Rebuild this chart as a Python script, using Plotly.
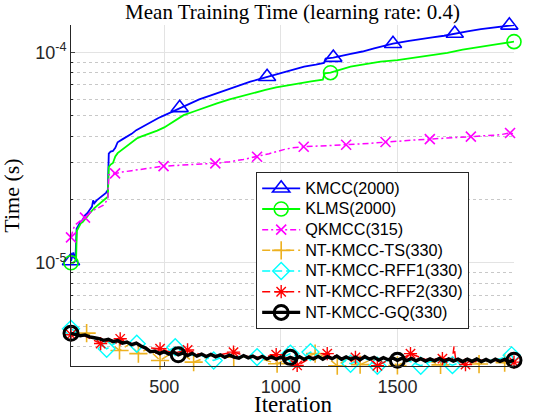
import plotly.graph_objects as go

# ---- data ----
kmcc_x = [100, 105, 110, 115, 120, 124, 130, 140, 150, 160, 170, 180, 190, 195, 200, 210, 220, 230,
          240, 250, 258, 262, 270, 280, 290, 300, 320, 340, 360, 380, 400, 425, 450, 475, 500, 530,
          566, 600, 650, 700, 726, 780, 830, 869, 900, 941, 1000, 1050, 1100, 1150, 1185, 1192, 1225,
          1300, 1350, 1400, 1428, 1481, 1550, 1600, 1650, 1700, 1746, 1800, 1858, 1900, 1950, 1980, 2000]
kmcc_y = [1.02e-5, 1.08e-5, 1.12e-5, 1.05e-5, 1.10e-5, 1.45e-5, 1.50e-5, 1.56e-5, 1.60e-5, 1.68e-5,
          1.72e-5, 1.78e-5, 1.85e-5, 1.98e-5, 1.92e-5, 1.98e-5, 2.02e-5, 2.06e-5, 2.10e-5, 2.15e-5,
          2.22e-5, 3.30e-5, 3.38e-5, 3.40e-5, 3.52e-5, 3.74e-5, 3.86e-5, 3.98e-5, 4.10e-5, 4.27e-5,
          4.40e-5, 4.55e-5, 4.74e-5, 4.88e-5, 5.02e-5, 5.20e-5, 5.45e-5, 5.68e-5, 5.98e-5, 6.25e-5,
          6.40e-5, 6.70e-5, 6.98e-5, 7.26e-5, 7.42e-5, 7.66e-5, 7.98e-5, 8.25e-5, 8.55e-5, 8.75e-5,
          8.92e-5, 9.35e-5, 9.45e-5, 9.85e-5, 1.01e-4, 1.045e-4, 1.066e-4, 1.10e-4, 1.135e-4, 1.16e-4,
          1.18e-4, 1.20e-4, 1.23e-4, 1.26e-4, 1.29e-4, 1.31e-4, 1.33e-4, 1.345e-4, 1.35e-4]
kmcc_mk = [100, 566, 941, 1225, 1481, 1746, 1980]

klms_x = [100, 110, 118, 122, 125, 130, 142, 150, 160, 170, 180, 190, 200, 210, 220, 230, 240, 250,
          258, 262, 270, 280, 290, 300, 320, 340, 360, 382, 400, 440, 470, 500, 540, 583, 630, 680,
          726, 780, 830, 880, 934, 980, 1030, 1084, 1130, 1180, 1188, 1213, 1260, 1299, 1350, 1428,
          1500, 1570, 1640, 1714, 1780, 1858, 1930, 2000]
klms_y = [1.00e-5, 1.00e-5, 1.02e-5, 1.05e-5, 1.42e-5, 1.45e-5, 1.54e-5, 1.56e-5, 1.62e-5, 1.66e-5,
          1.72e-5, 1.78e-5, 1.82e-5, 1.86e-5, 1.90e-5, 1.94e-5, 1.98e-5, 2.02e-5, 2.06e-5, 2.85e-5,
          2.93e-5, 2.98e-5, 3.20e-5, 3.32e-5, 3.45e-5, 3.58e-5, 3.72e-5, 3.90e-5, 3.98e-5, 4.12e-5,
          4.25e-5, 4.40e-5, 4.70e-5, 5.03e-5, 5.25e-5, 5.50e-5, 5.73e-5, 5.98e-5, 6.20e-5, 6.40e-5,
          6.63e-5, 6.82e-5, 6.98e-5, 7.13e-5, 7.28e-5, 7.42e-5, 7.95e-5, 8.01e-5, 8.30e-5, 8.55e-5,
          8.75e-5, 9.04e-5, 9.20e-5, 9.45e-5, 9.72e-5, 9.95e-5, 1.03e-4, 1.066e-4, 1.095e-4, 1.125e-4]
klms_mk = [100, 1213, 2000]

qkmcc_x = [100, 110, 120, 130, 146, 160, 175, 190, 205, 220, 239, 250, 258, 262, 289, 320, 360, 400,
           450, 497, 550, 600, 660, 719, 780, 840, 898, 950, 1012, 1050, 1098, 1150, 1210, 1280, 1340,
           1400, 1449, 1500, 1570, 1639, 1700, 1760, 1815, 1880, 1940, 1983, 2000]
qkmcc_y = [1.32e-5, 1.45e-5, 1.52e-5, 1.55e-5, 1.59e-5, 1.64e-5, 1.70e-5, 1.76e-5, 1.80e-5, 1.84e-5,
           1.88e-5, 1.95e-5, 2.00e-5, 2.62e-5, 2.66e-5, 2.70e-5, 2.74e-5, 2.78e-5, 2.83e-5, 2.88e-5,
           2.90e-5, 2.93e-5, 2.95e-5, 2.97e-5, 3.02e-5, 3.10e-5, 3.19e-5, 3.30e-5, 3.45e-5, 3.52e-5,
           3.56e-5, 3.58e-5, 3.60e-5, 3.64e-5, 3.67e-5, 3.71e-5, 3.75e-5, 3.80e-5, 3.83e-5, 3.87e-5,
           3.90e-5, 3.94e-5, 3.98e-5, 4.02e-5, 4.06e-5, 4.14e-5, 4.10e-5]
qkmcc_mk = [100, 160, 289, 497, 719, 898, 1098, 1280, 1449, 1639, 1815, 1983]

# NT-KMCC variants, values in units of 1e-6 s
ts_x = [100, 130, 167, 200, 250, 308, 350, 389, 430, 482, 530, 580, 626, 700, 750, 798, 850, 900,
        984, 1040, 1100, 1147, 1200, 1242, 1290, 1340, 1400, 1450, 1500, 1560, 1620, 1685, 1740,
        1800, 1850, 1900, 1960, 2000]
ts_y = [4.58, 4.52, 4.63, 4.40, 4.28, 3.83, 4.10, 3.70, 3.90, 3.43, 3.72, 3.68, 3.37, 3.62, 3.60,
        3.56, 3.58, 3.54, 3.31, 3.52, 3.53, 3.70, 3.54, 3.24, 3.52, 3.28, 3.51, 3.49, 3.25, 3.49,
        3.46, 3.27, 3.45, 3.44, 3.30, 3.43, 3.35, 3.44]
ts_mk = [167, 308, 389, 482, 626, 798, 984, 1147, 1242, 1340, 1500, 1685, 1850, 1960]

rff1_x = [100, 150, 200, 253, 300, 340, 382, 440, 500, 547, 600, 660, 712, 760, 820, 898, 950, 1000,
          1041, 1090, 1127, 1180, 1240, 1299, 1360, 1414, 1470, 1530, 1600, 1660, 1736, 1800, 1860,
          1920, 1990, 2000]
rff1_y = [4.85, 4.50, 4.38, 3.90, 4.22, 4.15, 4.12, 3.80, 3.74, 3.97, 3.66, 3.62, 3.43, 3.60, 3.58,
          3.56, 3.54, 3.52, 3.70, 3.52, 3.76, 3.52, 3.53, 3.31, 3.52, 3.24, 3.50, 3.48, 3.24, 3.46,
          3.26, 3.45, 3.43, 3.44, 3.63, 3.44]
rff1_mk = [100, 253, 382, 547, 712, 898, 1041, 1127, 1299, 1414, 1600, 1736, 1990]

rff2_x = [100, 160, 227, 270, 311, 360, 420, 482, 540, 600, 660, 720, 797, 860, 920, 980, 1030, 1070,
          1130, 1199, 1260, 1320, 1380, 1414, 1470, 1520, 1556, 1620, 1693, 1735, 1743, 1750, 1792,
          1850, 1920, 2000]
rff2_y = [4.55, 4.48, 4.13, 4.28, 4.35, 4.12, 3.95, 3.90, 3.72, 3.85, 3.64, 3.62, 3.76, 3.58, 3.55,
          3.66, 3.52, 3.25, 3.53, 3.70, 3.52, 3.55, 3.50, 3.24, 3.49, 3.50, 3.70, 3.47, 3.50, 3.45,
          4.00, 3.45, 3.28, 3.44, 3.43, 3.37]
rff2_mk = [100, 227, 311, 482, 600, 797, 980, 1070, 1199, 1320, 1414, 1556, 1693, 1792, 2000]

gq_x = list(range(100, 2001, 20))
gq_y = [4.62, 4.58, 4.50, 4.54, 4.44, 4.40, 4.36, 4.28, 4.33, 4.22, 4.27, 4.15, 4.20, 4.08, 4.15,
        4.02, 3.93, 3.78, 3.80, 3.70, 3.78, 3.68, 3.76, 3.65, 3.73, 3.62, 3.71, 3.60, 3.68, 3.58,
        3.67, 3.57, 3.65, 3.55, 3.64, 3.56, 3.52, 3.62, 3.53, 3.60, 3.50, 3.59, 3.49, 3.57, 3.48,
        3.56, 3.47, 3.55, 3.48, 3.58, 3.47, 3.57, 3.49, 3.59, 3.48, 3.58, 3.50, 3.60, 3.48, 3.57,
        3.47, 3.56, 3.46, 3.58, 3.48, 3.55, 3.45, 3.54, 3.46, 3.53, 3.44, 3.52, 3.43, 3.51, 3.42,
        3.50, 3.41, 3.49, 3.42, 3.51, 3.40, 3.49, 3.41, 3.48, 3.39, 3.48, 3.40, 3.49, 3.39, 3.47,
        3.38, 3.48, 3.40, 3.47, 3.39, 3.44]
gq_mk = [100, 560, 1040, 1500, 2000]

x_ticks = [500, 1000, 1500, 2000]
y_ticks = [1e-5, 1e-4]
y_ticktext = ["10<sup>-5</sup>", "10<sup>-4</sup>"]
y_minor = [2e-6, 3e-6, 4e-6, 5e-6, 6e-6, 7e-6, 8e-6, 9e-6,
           2e-5, 3e-5, 4e-5, 5e-5, 6e-5, 7e-5, 8e-5, 9e-5]

scale6 = 1e-6
series = [
    # name, x, y, marker-x, color, dash, width, symbol, size, marker line width
    ("KMCC(2000)", kmcc_x, kmcc_y, kmcc_mk, "#0000ff", "solid", 1.8, "triangle-up-open", 15, 1.6),
    ("KLMS(2000)", klms_x, klms_y, klms_mk, "#00ff00", "solid", 1.8, "circle-open", 14, 1.6),
    ("QKMCC(315)", qkmcc_x, qkmcc_y, qkmcc_mk, "#ff00ff", "6px,3px,2px,3px", 1.5, "x-thin-open", 10, 1.6),
    ("NT-KMCC-TS(330)", ts_x, [v * scale6 for v in ts_y], ts_mk, "#edb120", "8px,4px", 1.5,
     "cross-thin-open", 13, 1.6),
    ("NT-KMCC-RFF1(330)", rff1_x, [v * scale6 for v in rff1_y], rff1_mk, "#00ffff", "8px,4px", 1.5,
     "diamond-open", 13, 1.4),
    ("NT-KMCC-RFF2(330)", rff2_x, [v * scale6 for v in rff2_y], rff2_mk, "#ff0000", "8px,4px", 1.5,
     "asterisk-open", 11, 1.4),
    ("NT-KMCC-GQ(330)", gq_x, [v * scale6 for v in gq_y], gq_mk, "#000000", "solid", 3.4,
     "circle-open", 14, 3),
]

fig = go.Figure()
for name, xs, ys, mk, color, dash, lw, sym, msize, mlw in series:
    fig.add_trace(go.Scatter(x=xs, y=ys, mode="lines", showlegend=False,
                             line=dict(color=color, width=lw, dash=dash)))
    my = [ys[xs.index(m)] for m in mk]
    fig.add_trace(go.Scatter(x=mk, y=my, mode="markers", showlegend=False, cliponaxis=False,
                             marker=dict(symbol=sym, size=msize, color=color,
                                         line=dict(color=color, width=mlw))))
# legend entries (bigger text inside smaller row height, like the reference)
for name, xs, ys, mk, color, dash, lw, sym, msize, mlw in series:
    fig.add_trace(go.Scatter(x=[None], y=[None], mode="lines+markers",
                             name='<span style="font-size:16.2px">' + name + '</span>',
                             line=dict(color=color, width=lw, dash=dash),
                             marker=dict(symbol=sym, size=msize, color=color,
                                         line=dict(color=color, width=mlw))))

fig.update_layout(
    width=534, height=416,
    margin=dict(l=71, r=20, t=25, b=50),
    paper_bgcolor="white", plot_bgcolor="white",
    title=dict(text="Mean Training Time (learning rate: 0.4)", xref="paper", x=0.5,
               xanchor="center", y=0.99, yanchor="top",
               font=dict(family="Liberation Serif", size=21, color="#000000")),
    legend=dict(x=0.418, y=0.569, xanchor="left", yanchor="top",
                bgcolor="white", bordercolor="#262626", borderwidth=1,
                font=dict(family="Liberation Sans", size=13.6, color="#000000"),
                itemwidth=38, tracegroupgap=0),
    showlegend=True,
    annotations=[
        dict(text="Iteration", xref="paper", yref="paper", x=0.5, y=-0.112,
             xanchor="center", yanchor="middle", showarrow=False,
             font=dict(family="Liberation Serif", size=23, color="#000000")),
        dict(text="Time (s)", xref="paper", yref="paper", x=-0.135, y=0.5, textangle=-90,
             xanchor="center", yanchor="middle", showarrow=False,
             font=dict(family="Liberation Serif", size=22, color="#000000")),
    ],
)
fig.update_xaxes(range=[100, 2000], tickvals=x_ticks, ticks="inside", ticklen=4,
                 showline=True, linecolor="#262626", linewidth=1, mirror=False,
                 showgrid=True, gridcolor="#e3e3e3", zeroline=False, automargin=False,
                 tickfont=dict(family="Liberation Sans", size=18, color="#262626"),
                 ticklabelstandoff=4)
fig.update_yaxes(type="log", range=[-5.4908, -3.8697], tickvals=y_ticks, ticktext=y_ticktext,
                 ticks="inside", ticklen=4, showline=True, linecolor="#262626", linewidth=1,
                 mirror=False, showgrid=True, gridcolor="#e3e3e3", zeroline=False, automargin=False,
                 minor=dict(tickvals=y_minor, ticks="inside", ticklen=2, tickcolor="#262626",
                            showgrid=True, gridcolor="#c8c8c8", griddash="dot", gridwidth=1),
                 tickfont=dict(family="Liberation Sans", size=18, color="#262626"))

# the page body has a default 8px margin; drop it so the figure sits at the window corner
fig.write_html("out.html", config={"displayModeBar": False},
               post_script="document.body.style.margin='0';")
